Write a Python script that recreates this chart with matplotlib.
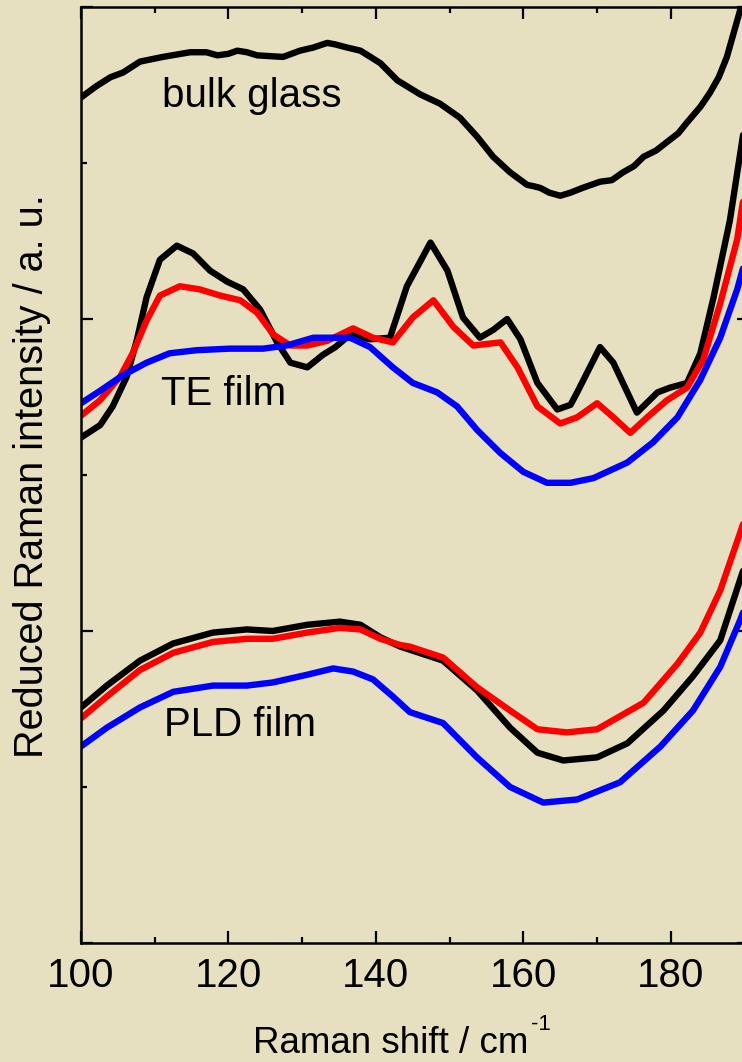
import matplotlib
matplotlib.use("Agg")
import matplotlib.pyplot as plt
from matplotlib import font_manager
from matplotlib.ticker import MultipleLocator, NullFormatter

plt.rcParams["font.family"] = ["Liberation Sans", "DejaVu Sans"]

BG = "#E6DFC0"

# bulk glass
bulk_x = [100.0, 102.0, 104.0, 105.7, 108.0, 111.1, 114.8, 117.0, 118.5, 120.0,
          121.2, 122.5, 123.9, 127.4, 129.7, 131.5, 133.4, 134.5, 136.1, 137.9,
          140.6, 142.9, 146.0, 148.7, 151.4, 153.7, 155.9, 158.2, 160.5, 161.5,
          162.3, 163.5, 165.0, 166.4, 168.0, 170.4, 172.0, 173.5, 175.0, 176.3,
          178.0, 179.9, 181.0, 182.2, 184.0, 185.3, 186.5, 187.6, 189.4, 190.6]
bulk_y = [5.42, 5.49, 5.55, 5.58, 5.65, 5.68, 5.71, 5.71, 5.69, 5.70,
          5.72, 5.71, 5.69, 5.68, 5.72, 5.74, 5.77, 5.76, 5.74, 5.72,
          5.64, 5.53, 5.44, 5.38, 5.29, 5.17, 5.04, 4.94, 4.86, 4.85,
          4.84, 4.81, 4.79, 4.81, 4.84, 4.88, 4.89, 4.94, 4.98, 5.04,
          5.08, 5.15, 5.19, 5.26, 5.36, 5.45, 5.55, 5.68, 5.98, 6.2]

# TE film
te_black_x = [100.0, 102.6, 104.3, 106.2, 107.6, 108.9, 110.7, 113.0, 115.2, 117.5,
              119.8, 122.0, 124.3, 126.6, 128.4, 130.7, 132.8, 134.5, 136.5, 139.2,
              141.9, 144.2, 147.4, 149.7, 151.8, 154.1, 155.9, 157.8, 159.6, 161.9,
              164.6, 166.4, 167.3, 170.4, 172.2, 175.4, 178.2, 179.9, 182.2, 184.0,
              185.8, 188.0, 189.7, 190.6]
te_black_y = [3.24, 3.32, 3.44, 3.63, 3.87, 4.14, 4.38, 4.47, 4.42, 4.31,
              4.24, 4.19, 4.06, 3.85, 3.72, 3.69, 3.77, 3.82, 3.90, 3.87,
              3.88, 4.21, 4.49, 4.31, 4.01, 3.88, 3.93, 4.00, 3.87, 3.59,
              3.42, 3.45, 3.53, 3.82, 3.72, 3.40, 3.53, 3.56, 3.59, 3.78,
              4.14, 4.63, 5.15, 5.45]

te_red_x = [100.0, 102.6, 105.3, 107.0, 108.9, 110.7, 113.4, 116.1, 118.9, 121.6,
            123.9, 126.1, 128.4, 130.7, 133.4, 136.9, 139.6, 142.3, 145.0, 147.8,
            150.5, 153.2, 156.9, 159.2, 161.9, 165.0, 167.3, 170.0, 172.2, 174.5,
            176.8, 179.5, 182.2, 184.4, 186.7, 189.0, 189.7, 190.6]
te_red_y = [3.38, 3.48, 3.63, 3.78, 3.99, 4.15, 4.21, 4.19, 4.15, 4.12,
            4.04, 3.90, 3.83, 3.83, 3.86, 3.94, 3.88, 3.85, 4.01, 4.12,
            3.95, 3.83, 3.85, 3.69, 3.44, 3.33, 3.37, 3.46, 3.37, 3.27,
            3.37, 3.48, 3.56, 3.74, 4.10, 4.51, 4.73, 4.95]

te_blue_x = [100.0, 102.6, 105.7, 108.9, 112.0, 115.7, 120.2, 124.7, 127.9, 131.5,
             133.8, 136.5, 139.2, 142.3, 145.0, 148.3, 151.0, 153.7, 156.9, 160.0,
             163.2, 166.4, 169.5, 174.1, 177.6, 180.9, 184.0, 186.7, 189.0, 189.7,
             190.6]
te_blue_y = [3.46, 3.54, 3.64, 3.72, 3.78, 3.80, 3.81, 3.81, 3.83, 3.88,
             3.88, 3.88, 3.82, 3.69, 3.59, 3.53, 3.44, 3.29, 3.14, 3.02,
             2.95, 2.95, 2.98, 3.08, 3.21, 3.37, 3.61, 3.88, 4.19, 4.31,
             4.45]

# PLD film
pld_black_x = [100.0, 103.5, 108.0, 112.5, 117.9, 122.5, 126.0, 130.7, 135.1, 137.9,
               140.6, 143.3, 144.6, 149.1, 153.7, 158.2, 161.9, 165.4, 170.0, 174.1,
               179.0, 183.0, 186.7, 189.4, 190.6]
pld_black_y = [1.51, 1.65, 1.81, 1.92, 1.99, 2.01, 2.00, 2.04, 2.06, 2.04,
               1.96, 1.90, 1.88, 1.81, 1.62, 1.38, 1.22, 1.17, 1.19, 1.28,
               1.49, 1.71, 1.94, 2.33, 2.50]

pld_red_x = [100.0, 103.5, 108.0, 112.5, 117.9, 122.5, 126.0, 130.7, 135.1, 137.9,
             140.6, 143.3, 144.6, 149.1, 153.7, 158.2, 161.9, 165.9, 170.0, 176.3,
             180.9, 184.0, 186.7, 189.4, 190.6]
pld_red_y = [1.44, 1.58, 1.75, 1.86, 1.93, 1.95, 1.95, 1.99, 2.02, 2.01,
             1.95, 1.91, 1.90, 1.83, 1.64, 1.49, 1.37, 1.35, 1.37, 1.54,
             1.79, 1.99, 2.26, 2.63, 2.80]

pld_blue_x = [100.0, 103.5, 108.0, 112.5, 117.9, 122.5, 126.0, 130.7, 134.2, 136.9,
              139.6, 142.3, 144.6, 149.1, 153.7, 158.2, 162.7, 167.3, 173.1, 178.6,
              183.0, 186.7, 189.4, 190.6]
pld_blue_y = [1.26, 1.38, 1.51, 1.61, 1.65, 1.65, 1.67, 1.72, 1.76, 1.74,
              1.69, 1.58, 1.48, 1.41, 1.19, 1.00, 0.90, 0.92, 1.03, 1.26,
              1.49, 1.77, 2.07, 2.22]

labels = ["bulk glass", "TE film", "PLD film"]
label_pos = [(111.0, 5.36), (110.8, 3.45), (111.2, 1.33)]

# the axis numbers and x title look like a narrow Arial in the reference
installed = {f.name for f in font_manager.fontManager.ttflist}
if "Liberation Sans Narrow" in installed:
    narrow, tick_fs, xl_fs, sup_fs = "Liberation Sans Narrow", 32.5, 32, 19
else:
    narrow, tick_fs, xl_fs, sup_fs = "Liberation Sans", 29, 26.5, 16

W, H = 742, 1062
fig = plt.figure(figsize=(W / 100, H / 100), dpi=100)
fig.patch.set_facecolor(BG)
ax = fig.add_axes([81 / W, (H - 943) / H, (749 - 81) / W, (943 - 7) / H])
ax.set_facecolor(BG)

lw = 4.6
kw = dict(solid_joinstyle="round", solid_capstyle="round")
ax.plot(bulk_x, bulk_y, color="black", lw=lw, **kw)
ax.plot(te_black_x, te_black_y, color="black", lw=lw, **kw)
ax.plot(te_red_x, te_red_y, color="#FF0000", lw=lw, **kw)
ax.plot(te_blue_x, te_blue_y, color="#0000FF", lw=lw, **kw)
ax.plot(pld_black_x, pld_black_y, color="black", lw=lw, **kw)
ax.plot(pld_red_x, pld_red_y, color="#FF0000", lw=lw, **kw)
ax.plot(pld_blue_x, pld_blue_y, color="#0000FF", lw=lw, **kw)

for s, (lx, ly) in zip(labels, label_pos):
    ax.text(lx, ly, s, fontsize=29, ha="left", va="baseline")

ax.set_xlim(100, 190.6)
ax.set_ylim(0, 6)
ax.xaxis.set_major_locator(MultipleLocator(20))
ax.xaxis.set_minor_locator(MultipleLocator(10))
ax.yaxis.set_major_locator(MultipleLocator(2))
ax.yaxis.set_minor_locator(MultipleLocator(1))
ax.yaxis.set_major_formatter(NullFormatter())
ax.tick_params(which="both", direction="in", top=True, right=True, width=1.6)
ax.tick_params(which="major", length=8.5)
ax.tick_params(which="minor", length=4.5)
ax.tick_params(axis="x", pad=10)
for lab in ax.get_xticklabels():
    lab.set_family([narrow, "DejaVu Sans"])
    lab.set_fontsize(tick_fs)
for sp in ax.spines.values():
    sp.set_linewidth(1.8)

# x label, with a small raised "-1"
fig.text(253 / W, 1 - 1053 / H, "Raman shift / cm", family=[narrow, "DejaVu Sans"],
         fontsize=xl_fs, ha="left", va="baseline")
fig.text(531 / W, 1 - 1030 / H, "-1", family=[narrow, "DejaVu Sans"],
         fontsize=sup_fs, ha="left", va="baseline")
fig.text(32 / W, 1 - 476 / H, "Reduced Raman intensity / a. u.",
         fontsize=28.5, rotation=90, ha="center", va="center")

fig.savefig("out.png", dpi=100, facecolor=BG)
